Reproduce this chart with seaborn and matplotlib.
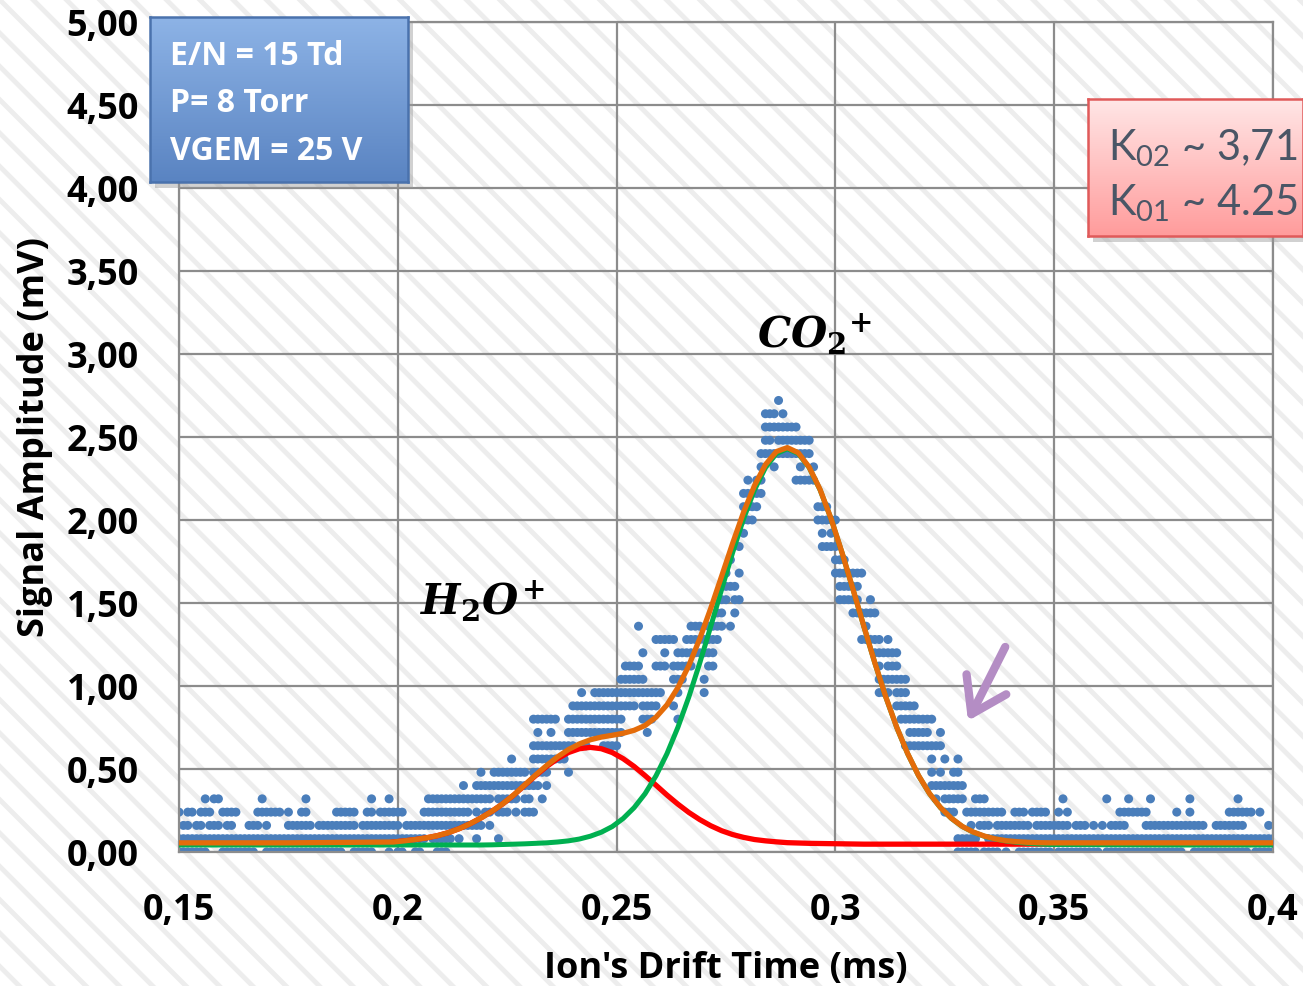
import numpy as np
import pandas as pd
import matplotlib
matplotlib.use("Agg")
import matplotlib.pyplot as plt
import seaborn as sns
from matplotlib.patches import Rectangle

# ---------------- data ----------------
X_TICKS = [0.15, 0.2, 0.25, 0.3, 0.35, 0.4]
X_TICK_LABELS = ["0,15", "0,2", "0,25", "0,3", "0,35", "0,4"]
Y_TICKS = [0.0, 0.5, 1.0, 1.5, 2.0, 2.5, 3.0, 3.5, 4.0, 4.5, 5.0]
Y_TICK_LABELS = ["0,00", "0,50", "1,00", "1,50", "2,00", "2,50",
                 "3,00", "3,50", "4,00", "4,50", "5,00"]

# measured points: amplitude is quantised in steps of 0.08 mV (level k -> k*0.08 mV);
# for each level, the time columns (column i -> 0.15 + 0.001*i ms) where a dot is drawn
DOT_T0 = 0.15
DOT_DT = 0.001
DOT_DV = 0.08
DOT_LEVELS = {
    0: "0-6 10-17 20-37 40-44 48 50-51 54-55 59-61 178-182 184-187 189 192-199 201-210 212-229 232-244 246-250",
    1: "0-56 58-62 64 68 73 178-182 185-250",
    2: "1-2 4-5 7-9 11-12 16-18 20 25-30 32-40 42-50 52-69 71 181 183-185 187-194 196-203 205-207 209 211 213-216 221-234 237-243 249",
    3: "0 2-3 5-7 10-13 18-23 25 28-29 36-40 43-44 46-51 56-66 68 70-71 73-75 77 79-81 175-177 180-188 191-193 195-198 201 203 215-221 228 231 240-245 247",
    4: "6 8-9 19 29 44 48 57-71 73-77 79-80 83 173 175-179 182-184 202 212 217 222 231 242",
    5: "65 68-82 84 172-179",
    6: "69 72-79 81-84 89 172 174 177-178",
    7: "76 81-88 172 175 178",
    8: "81-90 93 97-100 166-174",
    9: "82 85 89-101 107 167-171 174",
    10: "81-86 89-101 106-108 114 165-172",
    11: "90-104 106-109 113 164-168",
    12: "92 95-110 114 120 160-162 164-166",
    13: "101-106 113-115 120 160-166",
    14: "102-105 109-111 113-117 121-122 160 162-164",
    15: "106 111 114-122 159-164",
    16: "109-113 116-123 156-160 162",
    17: "105 117-119 121-124 126 157",
    18: "123-124 127 154-159",
    19: "124-125 127-128 151-155 158",
    20: "124-127 151-155",
    21: "125 128 150-156",
    22: "126 150-152",
    23: "128 147-150",
    24: "129 147 149",
    25: "129-131 146-150",
    26: "129-132 146-148",
    27: "129-133",
    28: "130 132-133 141-145",
    29: "133 136 142 145",
    30: "133-144",
    31: "134-135 137-144",
    32: "134-141",
    33: "134-136 138",
    34: "137",
}

# fitted curves (ms, mV)
FIT_T = [0.150, 0.175,
         0.199, 0.2015, 0.204, 0.2065, 0.209, 0.2115, 0.214, 0.2165, 0.219, 0.2215,
         0.224, 0.2265, 0.229, 0.2315, 0.234, 0.2365, 0.239, 0.2415, 0.244, 0.2465,
         0.249, 0.2515, 0.254, 0.2565, 0.259, 0.2615, 0.264, 0.2665, 0.269, 0.2715,
         0.274, 0.2765, 0.279, 0.2815, 0.284, 0.2865, 0.289, 0.2915, 0.294, 0.2965,
         0.299, 0.3015, 0.304, 0.3065, 0.309, 0.3115, 0.314, 0.3165, 0.319, 0.3215,
         0.324, 0.3265, 0.329, 0.3315, 0.334, 0.3365, 0.339, 0.3415, 0.344, 0.3465, 0.349,
         0.375, 0.400]
FIT_H2O = [np.nan, np.nan,
           0.060, 0.067, 0.075, 0.085, 0.098, 0.116, 0.140, 0.170, 0.205, 0.245,
           0.290, 0.343, 0.402, 0.460, 0.515, 0.562, 0.599, 0.622, 0.630, 0.622,
           0.599, 0.562, 0.515, 0.460, 0.402, 0.343, 0.288, 0.238, 0.195, 0.158,
           0.128, 0.105, 0.088, 0.075, 0.067, 0.061, 0.056, 0.054, 0.052, 0.051,
           0.050, 0.049, 0.048, 0.047, 0.047, 0.047, 0.047, 0.047, 0.047, 0.047,
           0.047, 0.047, 0.047, 0.047, 0.047, 0.047, 0.047, 0.047, 0.047, 0.047, 0.047,
           np.nan, np.nan]
FIT_CO2 = [0.042, 0.042,
           0.042, 0.042, 0.042, 0.042, 0.042, 0.042, 0.042, 0.042, 0.042, 0.043,
           0.045, 0.047, 0.049, 0.052, 0.055, 0.060, 0.067, 0.078, 0.095, 0.119,
           0.153, 0.202, 0.267, 0.351, 0.459, 0.592, 0.751, 0.934, 1.139, 1.358,
           1.583, 1.803, 2.007, 2.181, 2.315, 2.400, 2.429, 2.400, 2.315, 2.181,
           2.007, 1.803, 1.583, 1.358, 1.139, 0.934, 0.751, 0.592, 0.459, 0.351,
           0.267, 0.202, 0.153, 0.119, 0.095, 0.078, 0.066, 0.058, 0.052, 0.048, 0.045,
           0.042, 0.042]
FIT_TOTAL = [0.055, 0.055,
             0.060, 0.067, 0.075, 0.085, 0.098, 0.116, 0.140, 0.170, 0.205, 0.245,
             0.291, 0.344, 0.404, 0.464, 0.521, 0.573, 0.617, 0.651, 0.676, 0.692,
             0.703, 0.715, 0.733, 0.762, 0.812, 0.886, 0.990, 1.123, 1.285, 1.467,
             1.662, 1.859, 2.046, 2.207, 2.333, 2.412, 2.436, 2.405, 2.318, 2.183,
             2.008, 1.804, 1.584, 1.359, 1.140, 0.935, 0.752, 0.593, 0.460, 0.352,
             0.268, 0.203, 0.154, 0.120, 0.096, 0.079, 0.068, 0.062, 0.058, 0.056, 0.055,
             0.055, 0.055]

# ---------------- build tables ----------------
def parse_cols(spec):
    cols = []
    for tok in spec.split():
        if "-" in tok:
            a, b = tok.split("-")
            cols.extend(range(int(a), int(b) + 1))
        else:
            cols.append(int(tok))
    return cols

rows = []
for k, spec in DOT_LEVELS.items():
    for i in parse_cols(spec):
        rows.append((DOT_T0 + DOT_DT * i, DOT_DV * k))
dots = pd.DataFrame(rows, columns=["t", "v"])
fits = pd.DataFrame({"t": FIT_T, "h2o": FIT_H2O, "co2": FIT_CO2, "tot": FIT_TOTAL})

# ---------------- style ----------------
BOLD_FONT = ["Open Sans", "DejaVu Sans"]
plt.rcParams["font.family"] = ["Lato", "DejaVu Sans"]
plt.rcParams["mathtext.fontset"] = "custom"
plt.rcParams["mathtext.rm"] = "Lato"
plt.rcParams["mathtext.it"] = "DejaVu Serif:italic:bold"
plt.rcParams["mathtext.bf"] = "DejaVu Serif:bold"
plt.rcParams["hatch.linewidth"] = 3.5

GRID = "#8c8c8c"
fig = plt.figure(figsize=(13.03, 9.87), dpi=100)
fig.patch.set_facecolor("white")
bg = Rectangle((0, 0), 1, 1, transform=fig.transFigure, facecolor="white",
               edgecolor="#ededed", hatch="\\", linewidth=0, zorder=-10)
fig.add_artist(bg)

ax = fig.add_axes([0.1374, 0.1358, 0.8396, 0.8409])
ax.set_facecolor("none")

sns.scatterplot(data=dots, x="t", y="v", ax=ax, s=42, color="#4A7EBB",
                edgecolor="none", linewidth=0, legend=False, zorder=2)
h = fits.dropna(subset=["h2o"])
sns.lineplot(x=h["t"].values, y=h["h2o"].values, ax=ax, color="#FF0000", lw=3.8,
             sort=False, estimator=None, zorder=3)
sns.lineplot(x=fits["t"].values, y=fits["co2"].values, ax=ax, color="#00B050", lw=3.6,
             sort=False, estimator=None, zorder=4)
sns.lineplot(x=fits["t"].values, y=fits["tot"].values, ax=ax, color="#E46C0A", lw=3.8,
             sort=False, estimator=None, zorder=5)

ax.set_xlim(0.15, 0.4)
ax.set_ylim(0, 5)
ax.set_xticks(X_TICKS)
ax.set_xticklabels(X_TICK_LABELS, fontsize=26, fontweight="bold", family=BOLD_FONT)
ax.set_yticks(Y_TICKS)
ax.set_yticklabels(Y_TICK_LABELS, fontsize=26, fontweight="bold", family=BOLD_FONT)
ax.tick_params(axis="x", length=0, pad=29)
ax.tick_params(axis="y", length=0, pad=29)
ax.grid(True, color=GRID, lw=1.6)
ax.set_axisbelow(True)
for s in ax.spines.values():
    s.set_color(GRID)
    s.set_linewidth(1.6)

ax.set_xlabel("Ion's Drift Time (ms)", fontsize=26, fontweight="bold",
              family=BOLD_FONT, va="center")
ax.xaxis.set_label_coords(0.5, -0.1395)
ax.set_ylabel("Signal Amplitude (mV)", fontsize=26, fontweight="bold",
              family=BOLD_FONT, va="center")
ax.yaxis.set_label_coords(-0.132, 0.501)

# peak labels
ax.text(0.2821, 3.04, r"${CO_\mathbf{2}}^{\mathbf{+}}$", fontsize=30, ha="left", va="baseline", zorder=6)
ax.text(0.2051, 1.434, r"$H_\mathbf{2}O^{\mathbf{+}}$", fontsize=30, ha="left", va="baseline", zorder=6)

# arrow
ax.annotate("", xy=(0.3303, 0.79), xytext=(0.3388, 1.235),
            arrowprops=dict(arrowstyle="->,head_length=1.2,head_width=0.8",
                            color="#B48DC4", lw=6, mutation_scale=20,
                            shrinkA=0, shrinkB=0), zorder=6)

# ---------------- text boxes ----------------
def gradient_box(rect, top, bottom, edge):
    shadow = fig.add_axes([rect[0] + 0.004, rect[1] - 0.006, rect[2], rect[3]])
    shadow.set_facecolor("#9a9a9a")
    shadow.patch.set_alpha(0.45)
    shadow.set_xticks([]); shadow.set_yticks([])
    for s in shadow.spines.values():
        s.set_visible(False)
    bax = fig.add_axes(rect)
    c0 = np.array(matplotlib.colors.to_rgb(top))
    c1 = np.array(matplotlib.colors.to_rgb(bottom))
    g = np.linspace(0, 1, 64)[:, None, None]
    img = c0 * (1 - g) + c1 * g
    bax.imshow(img, extent=[0, 1, 0, 1], aspect="auto", origin="upper")
    bax.set_xlim(0, 1); bax.set_ylim(0, 1)
    bax.set_xticks([]); bax.set_yticks([])
    for s in bax.spines.values():
        s.set_color(edge)
        s.set_linewidth(1.8)
    return bax

W, H = 1303.0, 987.0
lb = gradient_box([150 / W, 1 - 183 / H, 258 / W, 165 / H], "#8db3e6", "#5a84c2", "#4a72ad")
for y, s in zip([0.715, 0.430, 0.139], ["E/N = 15 Td", "P= 8 Torr", "VGEM = 25 V"]):
    lb.text(0.0775, y, s, color="white", fontsize=23, fontweight="bold", family=BOLD_FONT,
            ha="left", va="baseline", transform=lb.transAxes)

rb = gradient_box([1088 / W, 1 - 237 / H, 1 - 1088 / W, 137 / H], "#ffe6e6", "#ff9c9c", "#e05a5a")
for y, s in zip([0.562, 0.161], [r"K$_{\mathrm{02}}$ ~ 3,71", r"K$_{\mathrm{01}}$ ~ 4.25"]):
    rb.text(0.093, y, s, color="#4a5666", fontsize=30, ha="left", va="baseline",
            transform=rb.transAxes, clip_on=True)

fig.savefig("out.png", dpi=100)
